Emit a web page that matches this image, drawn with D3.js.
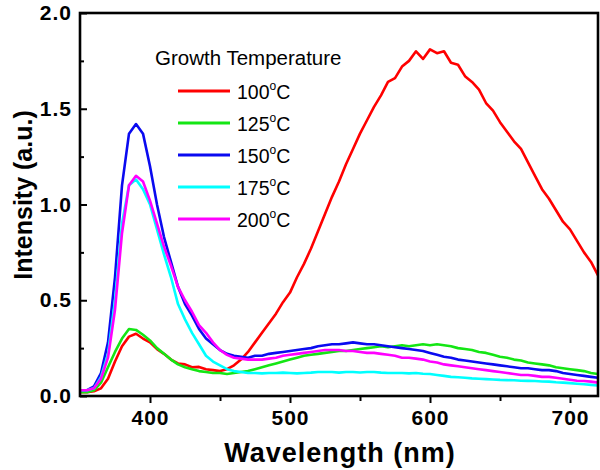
<!DOCTYPE html>
<html>
<head>
<meta charset="utf-8">
<script src="https://cdn.jsdelivr.net/npm/d3@7"></script>
<style>
  html, body { margin: 0; padding: 0; background: #fff; }
  svg { display: block; font-family: "Liberation Sans", Arial, sans-serif; }
</style>
</head>
<body>
<svg id="chart" width="600" height="470"></svg>
<script>
// ---- data ----
const wavelengths = d3.range(350, 721, 5);
const seriesNames = ["100", "125", "150", "175", "200"];
const seriesColors = ["#ff0000", "#14e614", "#0a0af0", "#00ffff", "#ff00ff"];

const s100 = [0.02,0.02,0.025,0.04,0.09,0.18,0.26,0.31,0.325,0.30,0.28,0.245,0.22,0.19,0.17,0.165,0.15,0.152,0.14,0.135,0.13,0.14,0.16,0.19,0.23,0.28,0.33,0.38,0.43,0.49,0.54,0.62,0.69,0.77,0.86,0.95,1.04,1.12,1.21,1.29,1.37,1.44,1.51,1.57,1.64,1.66,1.72,1.75,1.80,1.76,1.81,1.79,1.80,1.74,1.73,1.67,1.64,1.60,1.53,1.49,1.43,1.38,1.33,1.29,1.22,1.15,1.08,1.03,0.97,0.91,0.87,0.81,0.75,0.70,0.63];
const s125 = [0.02,0.02,0.03,0.07,0.15,0.23,0.30,0.35,0.345,0.32,0.29,0.25,0.22,0.19,0.165,0.15,0.14,0.13,0.125,0.12,0.12,0.115,0.12,0.125,0.13,0.14,0.15,0.16,0.17,0.18,0.19,0.20,0.21,0.215,0.22,0.225,0.23,0.235,0.235,0.24,0.245,0.25,0.255,0.26,0.255,0.26,0.265,0.26,0.265,0.27,0.265,0.27,0.265,0.26,0.25,0.245,0.24,0.23,0.225,0.215,0.205,0.20,0.19,0.185,0.175,0.17,0.165,0.16,0.15,0.145,0.14,0.135,0.13,0.12,0.115];
const s150 = [0.03,0.03,0.05,0.12,0.28,0.62,1.10,1.37,1.42,1.37,1.20,1.00,0.83,0.70,0.57,0.48,0.42,0.35,0.30,0.27,0.24,0.22,0.21,0.205,0.20,0.21,0.21,0.22,0.225,0.23,0.235,0.24,0.245,0.25,0.26,0.265,0.27,0.27,0.275,0.28,0.275,0.27,0.27,0.265,0.26,0.255,0.25,0.245,0.24,0.235,0.225,0.215,0.205,0.20,0.19,0.185,0.18,0.175,0.17,0.165,0.16,0.155,0.15,0.145,0.145,0.14,0.135,0.135,0.13,0.12,0.115,0.11,0.105,0.10,0.095];
const s175 = [0.03,0.03,0.04,0.10,0.22,0.50,0.90,1.10,1.13,1.08,1.00,0.87,0.74,0.62,0.48,0.40,0.33,0.27,0.21,0.18,0.16,0.14,0.13,0.125,0.12,0.12,0.118,0.12,0.12,0.122,0.12,0.118,0.12,0.122,0.125,0.125,0.125,0.122,0.125,0.125,0.123,0.125,0.125,0.122,0.12,0.12,0.12,0.118,0.12,0.116,0.115,0.11,0.105,0.10,0.098,0.095,0.092,0.09,0.088,0.086,0.084,0.083,0.082,0.08,0.079,0.078,0.076,0.075,0.072,0.07,0.067,0.064,0.061,0.058,0.055];
const s200 = [0.03,0.03,0.04,0.09,0.20,0.45,0.85,1.10,1.15,1.12,1.02,0.90,0.78,0.68,0.57,0.50,0.44,0.37,0.33,0.28,0.24,0.215,0.20,0.195,0.19,0.19,0.19,0.195,0.20,0.21,0.215,0.22,0.225,0.23,0.235,0.24,0.24,0.24,0.235,0.235,0.23,0.225,0.225,0.22,0.215,0.21,0.20,0.20,0.195,0.19,0.18,0.175,0.165,0.16,0.155,0.15,0.145,0.14,0.135,0.13,0.125,0.12,0.115,0.11,0.11,0.105,0.10,0.10,0.095,0.09,0.085,0.08,0.078,0.075,0.07];
const seriesValues = [s100, s125, s150, s175, s200];

const xMajorTicks = [400, 500, 600, 700];
const xMinorTicks = [450, 550, 650];
const yMajorTicks = [0, 0.5, 1.0, 1.5, 2.0];
const yMinorTicks = [0.25, 0.75, 1.25, 1.75];

const legendTitle = "Growth Temperature";
const xTitle = "Wavelength (nm)";
const yTitle = "Intensity (a.u.)";

// ---- layout ----
const svg = d3.select("#chart");
const L = 80, R = 598, T = 13, B = 396;
const x = d3.scaleLinear().domain([350, 720]).range([L, R]);
const y = d3.scaleLinear().domain([0, 2]).range([B, T]);

svg.append("defs").append("clipPath").attr("id", "clip")
  .append("rect").attr("x", L).attr("y", T).attr("width", R - L).attr("height", B - T);

// lines
const line = d3.line().x((d, i) => x(wavelengths[i])).y(d => y(d));
const gLines = svg.append("g").attr("clip-path", "url(#clip)");
seriesValues.forEach((vals, k) => {
  gLines.append("path")
    .attr("d", line(vals))
    .attr("fill", "none")
    .attr("stroke", seriesColors[k])
    .attr("stroke-width", 2.6)
    .attr("stroke-linejoin", "round");
});

// axes
const tickFont = g => g.selectAll("text")
  .attr("font-size", 21).attr("font-weight", "bold").attr("fill", "#000")
  .attr("letter-spacing", 1)
  .attr("font-family", '"Liberation Sans", Arial, sans-serif');

const xAxis = svg.append("g").attr("transform", `translate(0,${B})`)
  .call(d3.axisBottom(x).tickValues(xMajorTicks).tickSize(7).tickPadding(7).tickFormat(d3.format("d")));
xAxis.call(tickFont);
const xAxisMinor = svg.append("g").attr("transform", `translate(0,${B})`)
  .call(d3.axisBottom(x).tickValues(xMinorTicks).tickSize(5).tickFormat(""));

const yAxis = svg.append("g").attr("transform", `translate(${L},0)`)
  .call(d3.axisLeft(y).tickValues(yMajorTicks).tickSize(-7).tickPadding(8).tickFormat(d3.format(".1f")));
yAxis.call(tickFont);
const yAxisMinor = svg.append("g").attr("transform", `translate(${L},0)`)
  .call(d3.axisLeft(y).tickValues(yMinorTicks).tickSize(-4).tickFormat(""));

[xAxis, xAxisMinor, yAxis, yAxisMinor].forEach(g => {
  g.select(".domain").remove();
  g.selectAll("line").attr("stroke", "#000").attr("stroke-width", 2);
});

// frame
svg.append("rect").attr("x", L).attr("y", T).attr("width", R - L).attr("height", B - T)
  .attr("fill", "none").attr("stroke", "#000").attr("stroke-width", 2.6);

// titles
svg.append("text").attr("x", 340).attr("y", 462).attr("text-anchor", "middle")
  .attr("font-size", 27).attr("font-weight", "bold").attr("letter-spacing", 1).text(xTitle);
svg.append("text").attr("transform", `translate(32,195) rotate(-90)`)
  .attr("text-anchor", "middle").attr("font-size", 25).attr("font-weight", "bold").text(yTitle);

// legend
svg.append("text").attr("x", 155).attr("y", 65).attr("font-size", 20.5).text(legendTitle);
seriesNames.forEach((name, k) => {
  const yy = 91 + k * 32;
  svg.append("line").attr("x1", 178).attr("x2", 230).attr("y1", yy).attr("y2", yy)
    .attr("stroke", seriesColors[k]).attr("stroke-width", 3);
  const t = svg.append("text").attr("x", 237).attr("y", yy + 8).attr("font-size", 19.5);
  t.append("tspan").text(name);
  t.append("tspan").attr("font-size", 12).attr("dy", -9).text("o");
  t.append("tspan").attr("dy", 9).text("C");
});
</script>
</body>
</html>
